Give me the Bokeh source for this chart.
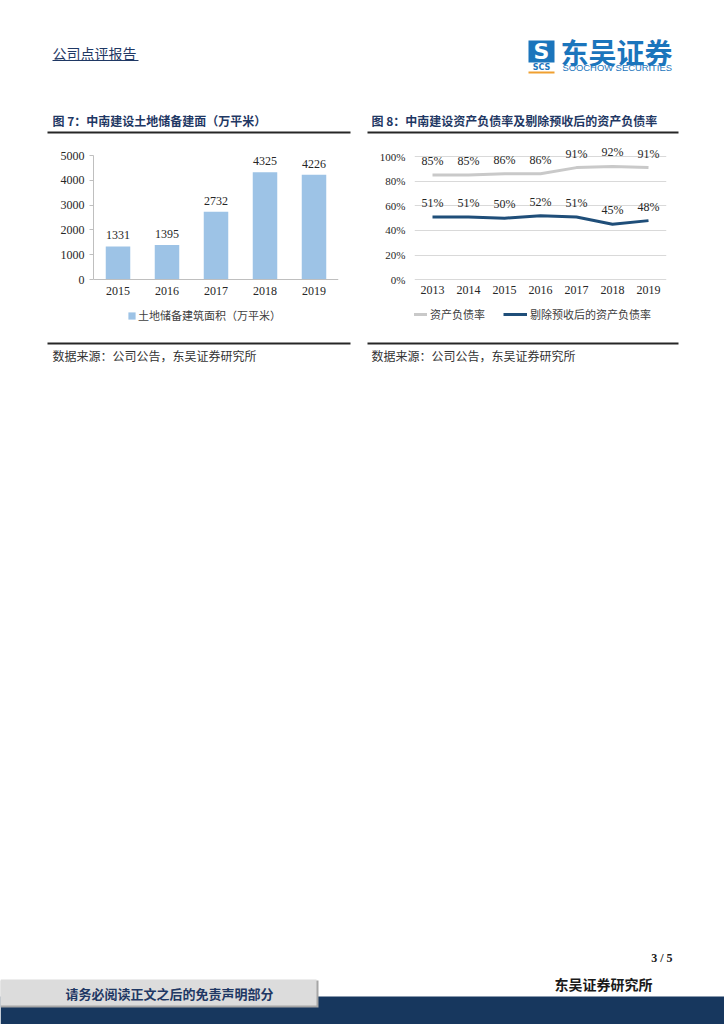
from bokeh.plotting import figure
from bokeh.models import (ColumnDataSource, FactorRange, Range1d, Legend, LegendItem,
                          NumeralTickFormatter, FixedTicker)
from bokeh.layouts import column, row
from bokeh.embed import file_html
from bokeh.resources import INLINE
from bokeh.core.properties import value

# ---------------- data ----------------
years7 = ["2015", "2016", "2017", "2018", "2019"]
land_bank = [1331, 1395, 2732, 4325, 4226]
land_ticks = [0, 1000, 2000, 3000, 4000, 5000]

years8 = ["2013", "2014", "2015", "2016", "2017", "2018", "2019"]
debt_ratio = [85, 85, 86, 86, 91, 92, 91]
adj_debt_ratio = [51, 51, 50, 52, 51, 45, 48]
ratio_ticks = [0, 0.2, 0.4, 0.6, 0.8, 1.0]

title7 = "图 7：中南建设土地储备建面（万平米）"
title8 = "图 8：中南建设资产负债率及剔除预收后的资产负债率"
legend7 = "土地储备建筑面积（万平米）"
legend8 = ["资产负债率", "剔除预收后的资产负债率"]
source_txt = "数据来源：公司公告，东吴证券研究所"

CJK = "Noto Sans CJK SC"
SERIF = "Liberation Serif"
NAVY = "#1f3864"
TXT = "#262626"


def canvas(w, h):
    p = figure(width=w, height=h, x_range=Range1d(0, w), y_range=Range1d(h, 0),
               output_backend="svg", toolbar_location=None, min_border=0,
               x_axis_location=None, y_axis_location=None, title=None)
    p.grid.visible = False
    p.outline_line_color = None
    return p


def txt(p, x, y, s, size, color=TXT, font=CJK, bold=False, align="left", base="middle"):
    p.text(x=[x], y=[y], text=[s], text_font=value(font), text_font_size=size,
           text_color=color, text_font_style="bold" if bold else "normal",
           text_align=align, text_baseline=base)


# ---------------- header (page y 0..140) ----------------
head = canvas(724, 140)
txt(head, 52, 52, "公司点评报告", "14px", color=NAVY)
head.segment(x0=[52], y0=[60], x1=[138], y1=[60], line_color=NAVY, line_width=1)
# logo
head.quad(left=[528], right=[554], top=[40], bottom=[62], fill_color="#1b75bc", line_color=None)
txt(head, 541, 51, "S", "22px", color="white", font="DejaVu Sans", bold=True, align="center")
txt(head, 541, 67, "SCS", "8px", color="#1b75bc", font="DejaVu Sans", bold=True, align="center")
head.segment(x0=[528], y0=[72], x1=[554], y1=[72], line_color="#f0a030", line_width=2)
txt(head, 560, 51, "东吴证券", "28px", color="#1b75bc", bold=True)
txt(head, 562, 67, "SOOCHOW SECURITIES", "9.4px", color="#1b75bc", font="Liberation Sans")
# chart titles + rules
txt(head, 52, 120, title7, "12px", color=NAVY, bold=True)
txt(head, 371, 120, title8, "12px", color=NAVY, bold=True)
head.segment(x0=[47, 367], y0=[132, 132], x1=[350, 678], y1=[132, 132],
             line_color="#262626", line_width=2)

# ---------------- chart 7 (page y 140..335, x 0..358) ----------------
# frame spans the whole height; value 0 sits at page y 279, 5000 at page y 155
src7 = ColumnDataSource(dict(year=years7, value=land_bank, label=[str(v) for v in land_bank]))
p7 = figure(width=358, height=195, x_range=FactorRange(*years7), y_range=Range1d(-2258, 5605),
            output_backend="svg", toolbar_location=None, title=None,
            min_border_left=93, min_border_right=20, min_border_top=0, min_border_bottom=0)
p7.outline_line_color = None
p7.grid.visible = False
bars = p7.vbar(x="year", top="value", width=0.5, source=src7,
               fill_color="#9dc3e6", line_color=None)
p7.text(x="year", y="value", text="label", source=src7, y_offset=-11,
        text_align="center", text_baseline="middle", text_font=value(SERIF),
        text_font_size="12px", text_color=TXT)
p7.yaxis.ticker = FixedTicker(ticks=land_ticks)
p7.yaxis.bounds = (land_ticks[0], land_ticks[-1])
p7.yaxis.axis_line_color = "#bfbfbf"
p7.yaxis.major_tick_line_color = "#bfbfbf"
p7.yaxis.major_tick_in = 0
p7.yaxis.major_tick_out = 4
p7.yaxis.minor_tick_line_color = None
p7.yaxis.major_label_standoff = 5
p7.xaxis.fixed_location = 0
p7.xaxis.axis_line_color = "#bfbfbf"
p7.xaxis.major_tick_line_color = None
p7.xaxis.major_tick_out = 0
p7.xaxis.major_tick_in = 0
p7.xaxis.major_label_standoff = 7
for ax in (p7.xaxis, p7.yaxis):
    ax.major_label_text_font = SERIF
    ax.major_label_text_font_size = "12px"
    ax.major_label_text_color = TXT
leg7 = Legend(items=[LegendItem(label=legend7, renderers=[bars])], location=(34, 12),
              glyph_width=9, glyph_height=9, label_height=9, label_standoff=2,
              padding=0, margin=0, border_line_color=None, background_fill_alpha=0,
              label_text_font=CJK, label_text_font_size="11px", label_text_color="#404040")
p7.add_layout(leg7)

# ---------------- chart 8 (page y 140..335, x 358..724) ----------------
# frame spans the whole height; 0 at page y 279, 100% at page y 156
src8 = ColumnDataSource(dict(
    year=years8,
    debt=[v / 100 for v in debt_ratio],
    adj=[v / 100 for v in adj_debt_ratio],
    debt_label=[f"{v}%" for v in debt_ratio],
    adj_label=[f"{v}%" for v in adj_debt_ratio],
))
p8 = figure(width=366, height=195, x_range=FactorRange(*years8), y_range=Range1d(-0.452, 1.13),
            output_backend="svg", toolbar_location=None, title=None,
            min_border_left=56, min_border_right=58, min_border_top=0, min_border_bottom=0)
p8.outline_line_color = None
p8.xgrid.visible = False
p8.ygrid.ticker = FixedTicker(ticks=ratio_ticks)
p8.ygrid.grid_line_color = "#d9d9d9"
p8.yaxis.ticker = FixedTicker(ticks=ratio_ticks)
p8.yaxis.formatter = NumeralTickFormatter(format="0%")
r_gray = p8.line(x="year", y="debt", source=src8, line_color="#c9c9c9", line_width=3)
r_blue = p8.line(x="year", y="adj", source=src8, line_color="#1f4e79", line_width=3)
for col, lab in (("debt", "debt_label"), ("adj", "adj_label")):
    p8.text(x="year", y=col, text=lab, source=src8, y_offset=-14,
            text_align="center", text_baseline="middle", text_font=value(SERIF),
            text_font_size="12px", text_color=TXT)
p8.xaxis.fixed_location = 0
for ax in (p8.xaxis, p8.yaxis):
    ax.axis_line_color = None
    ax.major_tick_line_color = None
    ax.minor_tick_line_color = None
    ax.major_tick_out = 0
    ax.major_tick_in = 0
    ax.major_label_text_font = SERIF
    ax.major_label_text_color = TXT
p8.yaxis.major_label_standoff = 9
p8.yaxis.major_label_text_font_size = "11px"
p8.xaxis.major_label_standoff = 6
p8.xaxis.major_label_text_font_size = "12px"
leg8 = Legend(items=[LegendItem(label=legend8[0], renderers=[r_gray]),
                     LegendItem(label=legend8[1], renderers=[r_blue])],
              orientation="horizontal", location=(-11, 13),
              glyph_width=24, glyph_height=14, label_height=14, label_standoff=3, spacing=18,
              padding=0, margin=0, border_line_color=None, background_fill_alpha=0,
              label_text_font=CJK, label_text_font_size="11px", label_text_color="#404040")
p8.add_layout(leg8)

# ---------------- bottom part (page y 335..1024) ----------------
foot = canvas(724, 689)
foot.segment(x0=[47, 367], y0=[8, 8], x1=[350, 678], y1=[8, 8], line_color="#262626", line_width=2)
txt(foot, 52, 20, source_txt, "12px", color="#333333")
txt(foot, 371, 20, source_txt, "12px", color="#333333")
txt(foot, 672, 622, "3 / 5", "12px", color="#1a1a1a", font=SERIF, bold=True, align="right")
txt(foot, 554, 648, "东吴证券研究所", "14px", color="#1a1a1a", bold=True)
foot.quad(left=[0], right=[724], top=[661], bottom=[689], fill_color="#17375e", line_color=None)
foot.quad(left=[0], right=[318], top=[645], bottom=[672], fill_color="#a6a6a6", line_color=None)
foot.quad(left=[0], right=[316], top=[644], bottom=[670], fill_color="#dcdcdc", line_color=None)
txt(foot, 65, 658, "请务必阅读正文之后的免责声明部分", "13px", color=NAVY, bold=True)

layout = column(head, row(p7, p8), foot)
open("out.html", "w").write(file_html(layout, INLINE))
